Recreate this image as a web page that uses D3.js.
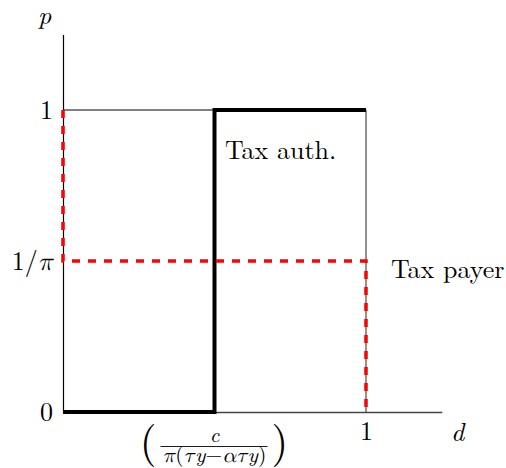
<!DOCTYPE html>
<html>
<head>
<meta charset="utf-8">
<script src="https://cdn.jsdelivr.net/npm/d3@7"></script>
<style>
  html, body { margin: 0; padding: 0; background: #fff; }
  svg { display: block; }
</style>
</head>
<body>
<svg id="chart" width="506" height="468"></svg>
<script>
// ---- data ----
const xDomain = [0, 1.25];
const yDomain = [0, 1.25];
const yTickValues = [0, 0.5, 1];
const yTickLabels = ["0", "1/π", "1"];
const xTickValues = [1];
const xTickLabels = ["1"];
const thresholdX = 0.5;            // position of c / (π(τy − ατy))
const fractionNumerator = "c";
// denominator pieces: [text, isGreek, italic]
const fractionDenominator = [["π", 1, 1], ["(", 0, 0], ["τ", 1, 1], ["y", 0, 1], ["−", 0, 0],
                             ["α", 1, 1], ["τ", 1, 1], ["y", 0, 1], [")", 0, 0]];
// Tax authority best response (thick black step)
const taxAuthD = [0, 0.5, 0.5, 1];
const taxAuthP = [0, 0, 1, 1];
// Tax payer best response (red dashed)
const taxPayerD = [0, 0, 1, 1];
const taxPayerP = [1, 0.5, 0.5, 0];
// thin frame of the unit square
const frameD = [0, 1, 1];
const frameP = [1, 1, 0];

const serif = "Latin Modern Roman";
const mathF = "Latin Modern Math";

const svg = d3.select("#chart");
const x = d3.scaleLinear().domain(xDomain).range([63, 441.75]);
const y = d3.scaleLinear().domain(yDomain).range([412, 34.5]);

const line = d3.line().x(d => x(d[0])).y(d => y(d[1]));

// frame: top (black) and right (gray)
svg.append("path")
  .attr("d", line([[frameD[0], frameP[0]], [frameD[1], frameP[1]]]))
  .attr("fill", "none").attr("stroke", "#000").attr("stroke-width", 1);
svg.append("path")
  .attr("d", line([[frameD[1], frameP[1]], [frameD[2], frameP[2]]]))
  .attr("fill", "none").attr("stroke", "#555").attr("stroke-width", 1.3);

// axes
const yAxis = svg.append("g")
  .attr("transform", `translate(${x(0)},0)`)
  .call(d3.axisLeft(y).tickValues(yTickValues)
    .tickFormat((d, i) => yTickLabels[i]).tickSize(0).tickSizeOuter(0).tickPadding(10));
yAxis.attr("font-family", serif).attr("font-size", 26);
yAxis.select(".domain").attr("stroke", "#000").attr("stroke-width", 1.2);
yAxis.selectAll("text").attr("font-family", serif).attr("font-size", 26).attr("fill", "#000")
  .each(function () {
    const t = d3.select(this);
    const s = t.text();
    if (s.includes("π")) {
      t.text("");
      t.append("tspan").text(s.replace("π", ""));
      t.append("tspan").attr("font-family", mathF).attr("font-style", "italic").text("π");
    }
  });

const xAxis = svg.append("g")
  .attr("transform", `translate(0,${y(0)})`)
  .call(d3.axisBottom(x).tickValues(xTickValues)
    .tickFormat((d, i) => xTickLabels[i]).tickSize(0).tickSizeOuter(0).tickPadding(10));
xAxis.attr("font-family", serif).attr("font-size", 26);
xAxis.select(".domain").attr("stroke", "#444").attr("stroke-width", 1.3);
xAxis.selectAll("text").attr("font-family", serif).attr("font-size", 26).attr("fill", "#000");

// axis titles
svg.append("text").attr("x", 38).attr("y", 24)
  .attr("font-family", serif).attr("font-style", "italic").attr("font-size", 26).text("p");
svg.append("text").attr("x", 451).attr("y", 441)
  .attr("font-family", serif).attr("font-style", "italic").attr("font-size", 26).text("d");

// fraction tick label at threshold
const fx = x(thresholdX);
const frac = svg.append("g").attr("font-family", serif).attr("fill", "#000");
frac.append("text").attr("x", fx).attr("y", 442).attr("text-anchor", "middle")
  .attr("font-style", "italic").attr("font-size", 21).text(fractionNumerator);
frac.append("line").attr("x1", fx - 54).attr("x2", fx + 53).attr("y1", 446.5).attr("y2", 446.5)
  .attr("stroke", "#000").attr("stroke-width", 0.9);
const den = frac.append("text").attr("x", fx).attr("y", 462).attr("text-anchor", "middle")
  .attr("font-size", 21)
  .attr("textLength", 104).attr("lengthAdjust", "spacingAndGlyphs");
fractionDenominator.forEach(([s, greek, it]) => {
  den.append("tspan")
    .attr("font-family", greek ? mathF : serif)
    .attr("font-style", it ? "italic" : "normal")
    .text(s);
});
frac.append("text").attr("x", fx - 58).attr("y", 456).attr("text-anchor", "end")
  .attr("font-size", 43).text("(");
frac.append("text").attr("x", fx + 57).attr("y", 456).attr("text-anchor", "start")
  .attr("font-size", 43).text(")");

// tax authority thick step
svg.append("path")
  .attr("d", line(taxAuthD.map((d, i) => [d, taxAuthP[i]])))
  .attr("fill", "none").attr("stroke", "#000").attr("stroke-width", 4)
  .attr("stroke-linejoin", "miter");

// tax payer red dashed
svg.append("path")
  .attr("d", line(taxPayerD.map((d, i) => [d, taxPayerP[i]])))
  .attr("fill", "none").attr("stroke", "#ff0000").attr("stroke-width", 3.5)
  .attr("stroke-dasharray", "8,8");

// labels
svg.append("text").attr("x", 225).attr("y", 159)
  .attr("font-family", serif).attr("font-size", 26).text("Tax auth.");
svg.append("text").attr("x", 391).attr("y", 278)
  .attr("font-family", serif).attr("font-size", 26).text("Tax payer");
</script>
</body>
</html>
